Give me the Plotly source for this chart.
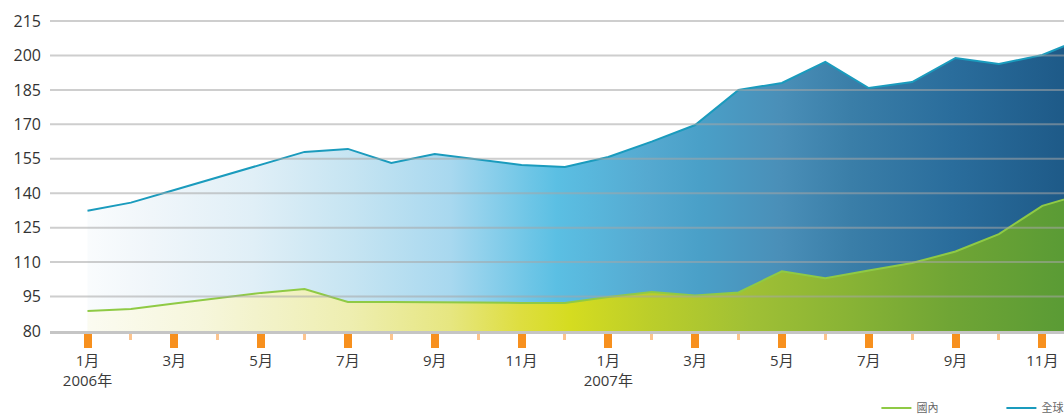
import plotly.graph_objects as go

# ---- data ----
months = list(range(24))  # Jan 2006 .. Dec 2007
global_vals = [132.4, 135.9, 141.4, 147.0, 152.7, 158.0, 159.3, 153.2, 157.1, 154.7, 152.3, 151.4,
               155.8, 162.5, 169.7, 185.0, 188.0, 197.2, 185.8, 188.4, 198.9, 196.3, 200.2, 208.0]
domestic_vals = [88.7, 89.6, 92.0, 94.3, 96.6, 98.3, 92.6, 92.6, 92.6, 92.4, 92.2, 92.2,
                 94.8, 97.0, 95.5, 96.8, 106.0, 103.0, 106.3, 109.6, 114.6, 122.2, 134.5, 140.0]
tick_vals = [0, 2, 4, 6, 8, 10, 12, 14, 16, 18, 20, 22]
tick_text = ["1月<br>2006年", "3月", "5月", "7月", "9月", "11月",
             "1月<br>2007年", "3月", "5月", "7月", "9月", "11月"]
minor_vals = [1, 3, 5, 7, 9, 11, 13, 15, 17, 19, 21, 23]
y_ticks = [80, 95, 110, 125, 140, 155, 170, 185, 200, 215]
name_global = "全球"
name_domestic = "國內"

X_RANGE = [-0.864, 22.5]
Y_RANGE = [80, 219.8]

FONT = "Open Sans, Noto Sans CJK TC, sans-serif"

blue_scale = [
    [0.00, "#ffffff"], [0.10, "#f0f6fa"], [0.20, "#e0eff7"], [0.30, "#c5e4f2"],
    [0.395, "#a8d8ef"], [0.475, "#6cc5e6"], [0.50, "#5bbfe3"], [0.59, "#55a9d0"],
    [0.64, "#4aa0c8"], [0.72, "#4a8fb8"], [0.79, "#3a7ea8"], [0.89, "#2a6d9c"],
    [1.00, "#1e5a88"],
]
green_scale = [
    [0.00, "#fdfdf8"], [0.148, "#f6f6dc"], [0.296, "#eeeeb0"], [0.395, "#e6e680"],
    [0.463, "#dede40"], [0.513, "#d5dc20"], [0.59, "#bcce2a"], [0.69, "#a0c035"],
    [0.79, "#88b335"], [0.887, "#70a535"], [1.00, "#5a9b35"],
]

fig = go.Figure()
fig.add_trace(go.Scatter(
    x=months, y=global_vals, mode="lines", name=name_global, showlegend=False,
    line=dict(color="#1a9bbd", width=2), fill="tozeroy",
    fillgradient=dict(type="horizontal", colorscale=blue_scale,
                      start=X_RANGE[0], stop=X_RANGE[1]),
    hoverinfo="skip",
))
fig.add_trace(go.Scatter(
    x=months, y=domestic_vals, mode="lines", name=name_domestic, showlegend=False,
    line=dict(color="#8fca45", width=2), fill="tozeroy",
    fillgradient=dict(type="horizontal", colorscale=green_scale,
                      start=X_RANGE[0], stop=X_RANGE[1]),
    hoverinfo="skip",
))
# legend-only entries (line samples)
fig.add_trace(go.Scatter(x=[None], y=[None], mode="lines", name=name_domestic,
                         line=dict(color="#8fca45", width=2)))
fig.add_trace(go.Scatter(x=[None], y=[None], mode="lines", name=name_global,
                         line=dict(color="#1a9bbd", width=2)))

shapes = [dict(type="line", xref="paper", x0=0, x1=1, yref="y", y0=v, y1=v,
               line=dict(color="rgba(165,165,165,0.55)", width=2), layer="above")
          for v in y_ticks if v > Y_RANGE[0]]

fig.update_layout(
    width=1064, height=414,
    margin=dict(l=50, r=0, t=10, b=83, autoexpand=False),
    paper_bgcolor="white", plot_bgcolor="rgba(0,0,0,0)",
    font=dict(family=FONT, color="#333333"),
    shapes=shapes,
    showlegend=True,
    legend=dict(orientation="h", x=0.815, xanchor="left", y=-0.24, yanchor="middle",
                font=dict(size=11, color="#666666"), entrywidth=80,
                entrywidthmode="pixels", bgcolor="rgba(0,0,0,0)"),
    xaxis=dict(range=X_RANGE, tickmode="array", tickvals=tick_vals, ticktext=tick_text,
               showgrid=False, zeroline=False, showline=True,
               linecolor="rgba(150,150,150,0.55)", linewidth=3, layer="above traces",
               ticks="outside", ticklen=14, tickwidth=8, tickcolor="#f7901e",
               tickfont=dict(size=15, color="#3a3a3a"),
               minor=dict(tickvals=minor_vals, ticks="outside", ticklen=6, tickwidth=3,
                          tickcolor="#fcc48e", showgrid=False)),
    yaxis=dict(range=Y_RANGE, tickmode="array", tickvals=y_ticks,
               showgrid=False, zeroline=False, showline=False,
               tickfont=dict(size=16, color="#333333"), ticks="", ticklabelstandoff=8),
)

fig.write_html(
    "out.html",
    config={"displayModeBar": False},
    post_script=("document.body.style.margin='0';"
                 "document.body.style.overflow='hidden';"
                 "document.documentElement.style.overflow='hidden';"),
)
